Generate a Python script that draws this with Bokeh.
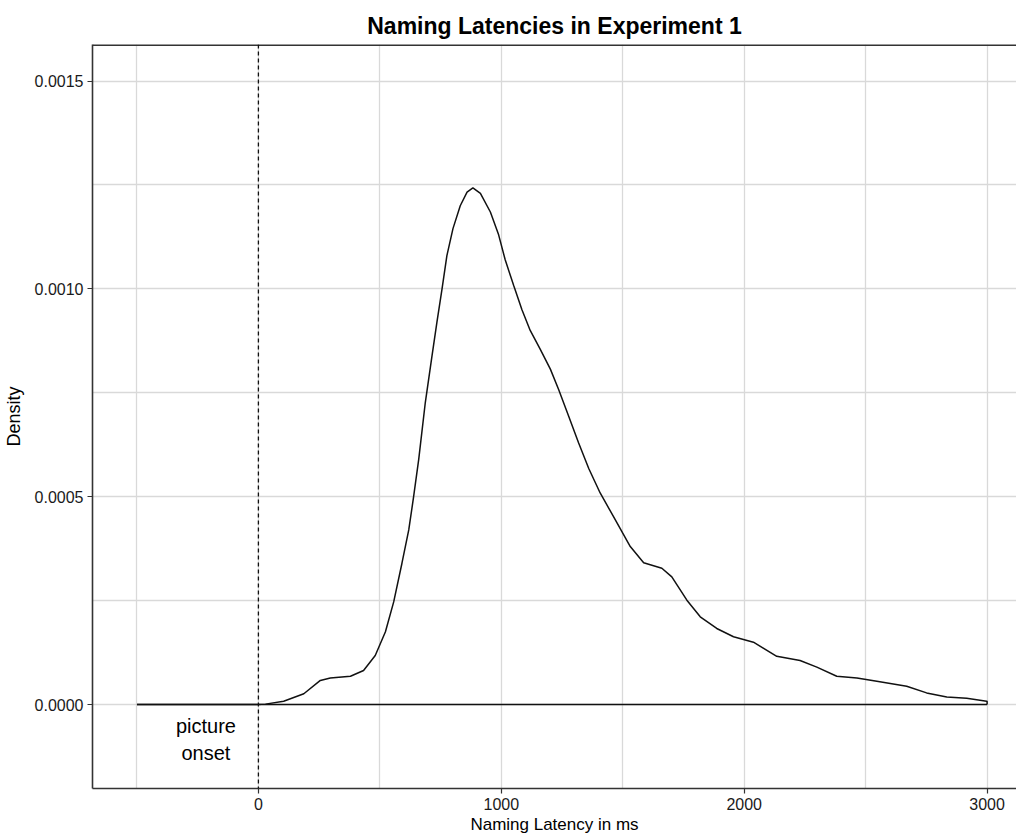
from bokeh.plotting import figure
from bokeh.models import Span, NumeralTickFormatter, FixedTicker, Range1d
from bokeh.core.properties import value
from bokeh.embed import file_html
from bokeh.resources import INLINE

# Density estimate (ms, density)
latency_ms = [-500, 0, 29, 104, 187, 255, 296, 379, 433, 481, 523, 557, 591, 619, 639, 660,
              687, 715, 735, 756, 776, 801, 831, 859, 883, 914, 955, 989, 1016, 1051,
              1085, 1119, 1160, 1202, 1236, 1277, 1318, 1360, 1407, 1462, 1531, 1586,
              1661, 1702, 1764, 1819, 1887, 1956, 2038, 2134, 2230, 2299, 2381, 2464,
              2546, 2669, 2751, 2834, 2916, 2998, 3000, 3000]
density = [0.0, 0.0, 0.000001, 0.000008, 0.000026, 0.000058, 0.000064, 0.000068, 0.000082,
           0.000118, 0.000175, 0.000247, 0.00034, 0.00042, 0.0005, 0.00059,
           0.000726, 0.00084, 0.00092, 0.001, 0.00108, 0.001145, 0.0012, 0.001233,
           0.001243, 0.00123, 0.001185, 0.00113, 0.00107, 0.001008,
           0.00095, 0.0009, 0.000855, 0.000807, 0.000758, 0.000694, 0.00063, 0.000568,
           0.000509, 0.000452, 0.00038, 0.000341,
           0.000328, 0.000307, 0.000251, 0.000211, 0.000183, 0.000163, 0.00015,
           0.000116, 0.000106, 0.00009, 0.000068, 0.000064,
           0.000056, 0.000044, 0.000028, 0.000018, 0.000015, 0.000008, 0.000008, 0.0]

baseline_x = [-500, 3000]
baseline_y = [0.0, 0.0]

x_ticks = [0, 1000, 2000, 3000]
x_minor = [-500, 500, 1500, 2500]
y_ticks = [0.0, 0.0005, 0.0010, 0.0015]
y_minor = [0.00025, 0.00075, 0.00125]

onset_x = [-216, -216]
onset_y = [-0.0000507, -0.000116]
onset_text = ["picture", "onset"]

X_LO, X_HI = -683, 3121
Y_LO, Y_HI = -0.000202, 0.001588

FONT = "Liberation Sans, Arial, sans-serif"
AXIS_COL = "#333333"

p = figure(width=1016, height=837, output_backend="svg", toolbar_location=None,
           x_range=Range1d(X_LO, X_HI), y_range=Range1d(Y_LO, Y_HI),
           title="Naming Latencies in Experiment 1",
           x_axis_label="Naming Latency in ms", y_axis_label="Density",
           min_border_left=92, min_border_right=0, min_border_top=44, min_border_bottom=49)

p.title.align = "center"
p.title.text_font = FONT
p.title.text_font_size = "23px"
p.title.text_font_style = "bold"
p.title.text_color = "black"
p.title.standoff = 11

p.background_fill_color = "white"
p.outline_line_color = None

p.xaxis.ticker = FixedTicker(ticks=x_ticks, minor_ticks=x_minor)
p.yaxis.ticker = FixedTicker(ticks=y_ticks, minor_ticks=y_minor)
p.xgrid.ticker = FixedTicker(ticks=x_ticks, minor_ticks=x_minor)
p.ygrid.ticker = FixedTicker(ticks=y_ticks, minor_ticks=y_minor)
p.yaxis.formatter = NumeralTickFormatter(format="0.0000")

for ax in (p.xaxis, p.yaxis):
    ax.axis_line_color = AXIS_COL
    ax.axis_line_width = 1.6
    ax.major_tick_line_color = AXIS_COL
    ax.major_tick_line_width = 1.2
    ax.major_tick_in = 0
    ax.major_tick_out = 5
    ax.minor_tick_line_color = None
    ax.major_label_text_font = FONT
    ax.major_label_text_font_size = "16px"
    ax.major_label_text_color = "#1a1a1a"
    ax.major_label_standoff = 4
    ax.axis_label_text_font = FONT
    ax.axis_label_text_font_size = "18px"
    ax.axis_label_text_font_style = "normal"
    ax.axis_label_text_color = "black"
    ax.axis_label_standoff = 8

p.xaxis.major_label_standoff = 4
p.xaxis.axis_label_standoff = 2
p.xaxis.axis_label_text_font_size = "17px"

for g in (p.xgrid, p.ygrid):
    g.grid_line_color = "#d9d9d9"
    g.grid_line_width = 1.3
    g.minor_grid_line_color = "#d9d9d9"
    g.minor_grid_line_width = 1.3

# top border of the panel
p.add_layout(Span(location=Y_HI, dimension="width", line_color=AXIS_COL, line_width=3.2))

p.line(baseline_x, baseline_y, line_color="#111111", line_width=1.5)
p.line(latency_ms, density, line_color="#111111", line_width=1.5)

p.add_layout(Span(location=0, dimension="height", line_color="#111111",
                  line_dash="4 3", line_width=1.3))

p.text(onset_x, onset_y, text=onset_text, text_align="center", text_baseline="middle",
       text_font=value(FONT), text_font_size="20px", text_color="black")

open("out.html", "w").write(file_html(p, INLINE))
